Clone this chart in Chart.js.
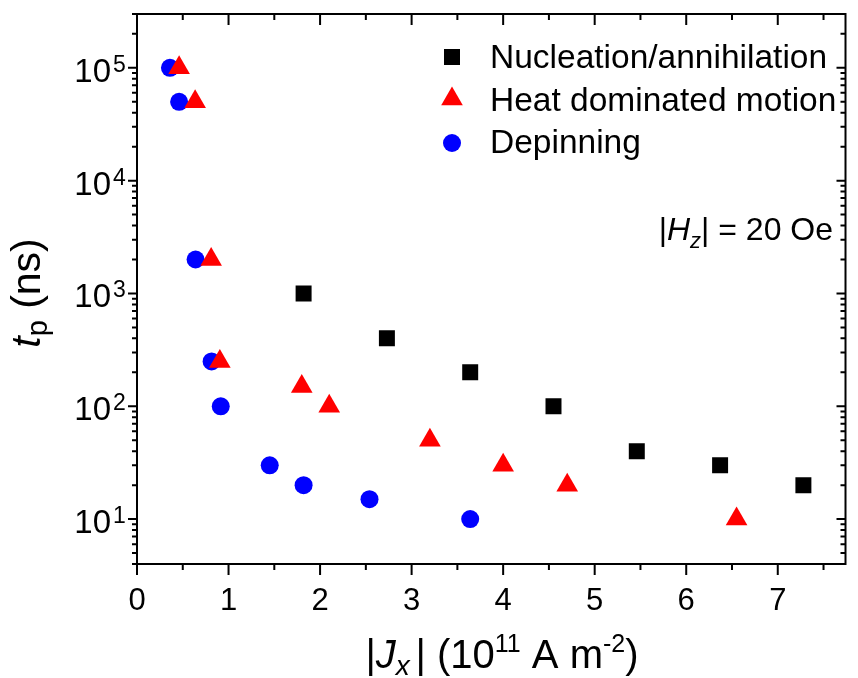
<!DOCTYPE html>
<html>
<head>
<meta charset="utf-8">
<script src="https://cdn.jsdelivr.net/npm/chart.js@4.4.1/dist/chart.umd.min.js"></script>
<style>
  html, body { margin: 0; padding: 0; background: #fff; }
  canvas { display: block; }
</style>
</head>
<body>
<canvas id="tpChart" width="858" height="678"></canvas>
<script>
// --- data ---
const seriesNames = ['Nucleation/annihilation', 'Heat dominated motion', 'Depinning'];

const nucleationJ = [1.82, 2.73, 3.64, 4.55, 5.46, 6.37, 7.28];
const nucleationT = [1000, 400, 200, 100, 40, 30, 20];

const heatJ = [0.46, 0.635, 0.81, 0.905, 1.80, 2.10, 3.20, 4.00, 4.70, 6.55];
const heatT = [1e5, 5e4, 2000, 250, 150, 100, 50, 30, 20, 10];

const depinJ = [0.36, 0.46, 0.64, 0.815, 0.915, 1.45, 1.82, 2.54, 3.64];
const depinT = [1e5, 5e4, 2000, 250, 100, 30, 20, 15, 10];

const xTicks = [0, 1, 2, 3, 4, 5, 6, 7];
const xMinorTicks = [0.5, 1.5, 2.5, 3.5, 4.5, 5.5, 6.5, 7.5];
const yExponents = [1, 2, 3, 4, 5];

const xRange = [0, 7.74];
const yRange = [4, 3e5];

const FONT = '"Liberation Sans", Arial, Helvetica, sans-serif';

function toPoints(xs, ys) {
    return xs.map((x, i) => ({ x: x, y: ys[i] }));
}

function fontOf(run) {
    return (run.italic ? 'italic ' : '') + run.size + 'px ' + FONT;
}

// draw a line of mixed text (italic, sub/superscripts)
function drawRich(ctx, runs, x, y, align) {
    const widths = runs.map(r => { ctx.font = fontOf(r); return ctx.measureText(r.text).width; });
    const total = widths.reduce((a, b) => a + b, 0);
    let cx = align === 'center' ? x - total / 2 : (align === 'right' ? x - total : x);
    runs.forEach((r, i) => {
        ctx.font = fontOf(r);
        ctx.fillText(r.text, cx, y + (r.dy || 0));
        cx += widths[i];
    });
}

// frame, ticks and axis text
const axesPlugin = {
    id: 'originAxes',
    beforeDatasetsDraw(chart) {
        const { ctx, chartArea: a, scales } = chart;
        const xs = scales.x, ys = scales.y;
        ctx.save();
        ctx.strokeStyle = '#000';
        ctx.lineWidth = 2;
        ctx.strokeRect(a.left, a.top, a.right - a.left, a.bottom - a.top);

        ctx.beginPath();
        // x ticks: outward at bottom, inward at top
        xTicks.concat(xMinorTicks).forEach(v => {
            const px = xs.getPixelForValue(v);
            if (px < a.left - 1 || px > a.right + 1) return;
            const len = xTicks.includes(v) ? 11 : 6;
            ctx.moveTo(px, a.bottom); ctx.lineTo(px, a.bottom + len);
            ctx.moveTo(px, a.top); ctx.lineTo(px, a.top + len);
        });
        // y ticks: outward at left, inward at right
        for (let e = 0; e <= 5; e++) {
            for (let m = 1; m <= 9; m++) {
                const v = m * Math.pow(10, e);
                if (v < yRange[0] || v > yRange[1]) continue;
                const py = ys.getPixelForValue(v);
                const len = m === 1 ? 9 : 5;
                ctx.moveTo(a.left, py); ctx.lineTo(a.left - len, py);
                ctx.moveTo(a.right, py); ctx.lineTo(a.right - len, py);
            }
        }
        ctx.stroke();
        ctx.restore();
    },
    afterDraw(chart) {
        const { ctx, chartArea: a, scales } = chart;
        const xs = scales.x, ys = scales.y;
        ctx.save();
        ctx.fillStyle = '#000';
        ctx.textBaseline = 'alphabetic';
        ctx.textAlign = 'left';

        // x tick labels
        ctx.font = '31px ' + FONT;
        xTicks.forEach(v => {
            const px = xs.getPixelForValue(v);
            const w = ctx.measureText(String(v)).width;
            ctx.fillText(String(v), px - w / 2, 610);
        });

        // y tick labels 10^n
        yExponents.forEach(e => {
            const py = ys.getPixelForValue(Math.pow(10, e));
            ctx.font = '33px ' + FONT;
            const w = ctx.measureText('10').width;
            ctx.fillText('10', 111 - w, py + 14);
            ctx.font = '23px ' + FONT;
            ctx.fillText(String(e), 113, py + 4);
        });

        // x axis title
        drawRich(ctx, [
            { text: '|', size: 40 },
            { text: 'J', size: 40, italic: true },
            { text: 'x\u2009', size: 28, italic: true, dy: 7 },
            { text: '| (10', size: 40 },
            { text: '11', size: 25, dy: -16 },
            { text: ' A m', size: 40 },
            { text: '-2', size: 25, dy: -16 },
            { text: ')', size: 40 }
        ], 502, 668, 'center');

        // y axis title, rotated
        ctx.save();
        ctx.translate(40, (a.top + a.bottom) / 2 + 4);
        ctx.rotate(-Math.PI / 2);
        drawRich(ctx, [
            { text: 't', size: 41, italic: true },
            { text: 'p', size: 29, dy: 7 },
            { text: ' (ns)', size: 41 }
        ], 0, 0, 'center');
        ctx.restore();

        // field annotation
        drawRich(ctx, [
            { text: '|', size: 32 },
            { text: 'H', size: 32, italic: true },
            { text: 'z', size: 22, italic: true, dy: 8 },
            { text: '| = 20 Oe', size: 32 }
        ], 833, 240, 'right');

        // legend
        const mx = 452, tx = 490;
        const rows = [
            { y: 57, base: 68 },
            { y: 99, base: 111 },
            { y: 143, base: 153 }
        ];
        chart.data.datasets.forEach((ds, i) => {
            const r = rows[i];
            ctx.fillStyle = ds.backgroundColor;
            ctx.beginPath();
            if (ds.pointStyle === 'rect') {
                ctx.rect(mx - 8, r.y - 8, 16, 16);
            } else if (ds.pointStyle === 'triangle') {
                const R = ds.pointRadius;
                ctx.moveTo(mx, r.y - R);
                ctx.lineTo(mx + R * Math.sqrt(3) / 2, r.y + R / 2);
                ctx.lineTo(mx - R * Math.sqrt(3) / 2, r.y + R / 2);
                ctx.closePath();
            } else {
                ctx.arc(mx, r.y, ds.pointRadius, 0, Math.PI * 2);
            }
            ctx.fill();
            ctx.fillStyle = '#000';
            ctx.font = '33.5px ' + FONT;
            ctx.fillText(ds.label, tx, r.base);
        });
        ctx.restore();
    }
};

new Chart(document.getElementById('tpChart'), {
    type: 'scatter',
    data: {
        datasets: [
            {
                label: seriesNames[0],
                data: toPoints(nucleationJ, nucleationT),
                pointStyle: 'rect',
                pointRadius: 11.3,
                backgroundColor: '#000000',
                borderWidth: 0
            },
            {
                label: seriesNames[1],
                data: toPoints(heatJ, heatT),
                pointStyle: 'triangle',
                pointRadius: 12.5,
                backgroundColor: '#ff0000',
                borderWidth: 0
            },
            {
                label: seriesNames[2],
                data: toPoints(depinJ, depinT),
                pointStyle: 'circle',
                pointRadius: 9,
                backgroundColor: '#0000ff',
                borderWidth: 0
            }
        ]
    },
    options: {
        responsive: false,
        devicePixelRatio: 1,
        animation: false,
        layout: { padding: { left: 137, right: 1.5, top: 14, bottom: 114 } },
        scales: {
            x: { type: 'linear', min: xRange[0], max: xRange[1], display: false },
            y: { type: 'logarithmic', min: yRange[0], max: yRange[1], display: false }
        },
        plugins: {
            legend: { display: false },
            tooltip: { enabled: false }
        }
    },
    plugins: [axesPlugin]
});
</script>
</body>
</html>
